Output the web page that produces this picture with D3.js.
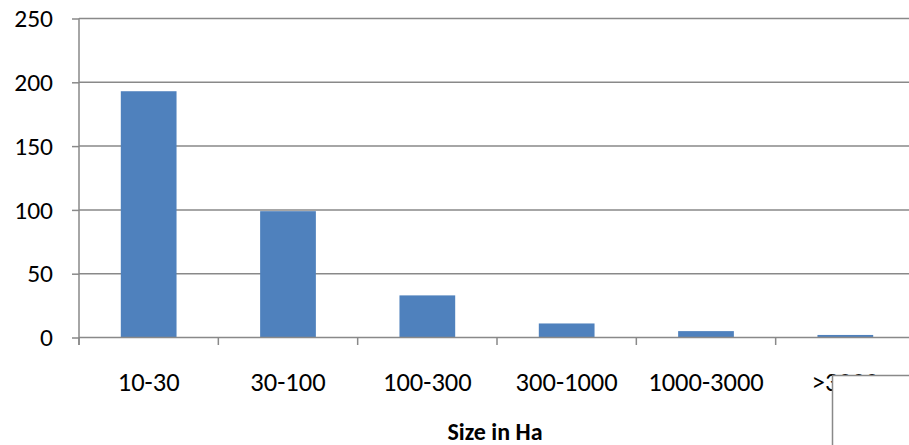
<!DOCTYPE html>
<html>
<head>
<meta charset="utf-8">
<script src="https://cdn.jsdelivr.net/npm/d3@7"></script>
<style>
  html, body { margin: 0; padding: 0; background: #fff; }
  svg { display: block; }
  text { font-family: Calibri, Carlito, "Liberation Sans", Arial, sans-serif; fill: #000; }
</style>
</head>
<body>
<div id="chart"></div>
<script>
// Number of sites by size class (hectares)
const categories = ["10-30", "30-100", "100-300", "300-1000", "1000-3000", ">3000"];
const counts = [193, 99, 33, 11, 5, 2];
const yTicks = [0, 50, 100, 150, 200, 250];
const xTitle = "Size in Ha";

const W = 909, H = 445;
const plot = { left: 79, right: 915, top: 18.5, bottom: 337.5 };
const gridColor = "#898989";
const barColor = "#4F81BD";

const svg = d3.select("#chart").append("svg")
  .attr("width", W).attr("height", H);

const x = d3.scaleBand()
  .domain(categories)
  .range([plot.left, plot.right])
  .paddingInner(0.6)
  .paddingOuter(0.3);

const y = d3.scaleLinear()
  .domain([0, 250])
  .range([plot.bottom, plot.top]);

// horizontal gridlines
svg.append("g").selectAll("line")
  .data(yTicks.filter(d => d > 0))
  .join("line")
  .attr("x1", plot.left).attr("x2", plot.right)
  .attr("y1", d => y(d)).attr("y2", d => y(d))
  .attr("stroke", gridColor).attr("stroke-width", 1.5);

// bars
svg.append("g").selectAll("rect")
  .data(categories)
  .join("rect")
  .attr("x", d => x(d))
  .attr("width", x.bandwidth())
  .attr("y", (d, i) => y(counts[i]))
  .attr("height", (d, i) => y(0) - y(counts[i]))
  .attr("fill", barColor);

// y axis
const yAxis = svg.append("g")
  .attr("transform", `translate(${plot.left},0)`)
  .call(d3.axisLeft(y).tickValues(yTicks).tickSize(7).tickPadding(19));
yAxis.select(".domain").remove();
yAxis.selectAll(".tick line").attr("stroke", gridColor).attr("stroke-width", 1.5);
yAxis.selectAll(".tick text")
  .style("font-size", "25.5px")
  .attr("fill", "#000");
svg.append("line")
  .attr("x1", plot.left).attr("x2", plot.left)
  .attr("y1", plot.top).attr("y2", plot.bottom + 7.5)
  .attr("stroke", gridColor).attr("stroke-width", 1.5);

// x axis: baseline with ticks at category boundaries
svg.append("line")
  .attr("x1", plot.left).attr("x2", plot.right)
  .attr("y1", y(0)).attr("y2", y(0))
  .attr("stroke", gridColor).attr("stroke-width", 1.5);
const step = x.step();
const bounds = d3.range(categories.length + 1).map(i => plot.left + i * step);
svg.append("g").selectAll("line")
  .data(bounds)
  .join("line")
  .attr("x1", d => d).attr("x2", d => d)
  .attr("y1", y(0)).attr("y2", y(0) + 7.5)
  .attr("stroke", gridColor).attr("stroke-width", 1.5);

svg.append("g").selectAll("text")
  .data(categories)
  .join("text")
  .attr("x", d => x(d) + x.bandwidth() / 2)
  .attr("y", 391)
  .attr("text-anchor", "middle")
  .style("font-size", "26.5px")
  .text(d => d);

// axis title
svg.append("text")
  .attr("x", (plot.left + plot.right) / 2 - 2)
  .attr("y", 440)
  .attr("text-anchor", "middle")
  .style("font-size", "24px")
  .style("font-weight", "bold")
  .text(xTitle);

// legend frame in the lower right corner
svg.append("rect")
  .attr("x", 832.5).attr("y", 375.5)
  .attr("width", 100).attr("height", 100)
  .attr("fill", "#fff")
  .attr("stroke", gridColor).attr("stroke-width", 1.5);
</script>
</body>
</html>
